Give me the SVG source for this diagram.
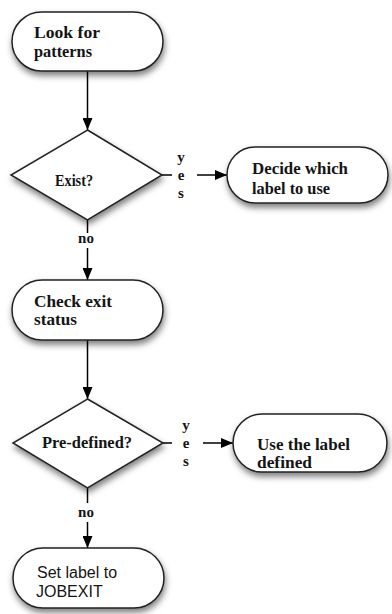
<svg xmlns="http://www.w3.org/2000/svg" width="392" height="614" viewBox="0 0 392 614">
  <defs>
    <filter id="shadow" x="-20%" y="-20%" width="140%" height="150%">
      <feDropShadow dx="1" dy="4" stdDeviation="3" flood-color="#000" flood-opacity="0.5"/>
    </filter>
    <marker id="arrow" viewBox="0 0 12 10" refX="12" refY="5" markerWidth="12" markerHeight="10" markerUnits="userSpaceOnUse" orient="auto">
      <path d="M0,0 L12,5 L0,10 z" fill="#000"/>
    </marker>
  </defs>
  <style>
    .shape { fill: #fff; stroke: #222; stroke-width: 1.5; filter: url(#shadow); }
    .lbl { font-family: "Liberation Serif", "DejaVu Serif", serif; font-weight: bold; font-size: 16px; fill: #141414; }
    .sans { font-family: "Liberation Sans", Arial, sans-serif; font-size: 16px; fill: #141414; }
    .edge { stroke: #000; stroke-width: 1.5; fill: none; }
    .elbl { font-family: "Liberation Serif", "DejaVu Serif", serif; font-weight: bold; font-size: 15px; fill: #141414; text-anchor: middle; }
  </style>
  <rect width="392" height="614" fill="#fff"/>

  <g id="connectors">
    <line class="edge" x1="87.5" y1="71" x2="87.5" y2="130" marker-end="url(#arrow)"/>
    <line class="edge" x1="87.5" y1="220" x2="87.5" y2="233"/>
    <line class="edge" x1="87.5" y1="248" x2="87.5" y2="280" marker-end="url(#arrow)"/>
    <line class="edge" x1="162" y1="175" x2="172" y2="175"/>
    <line class="edge" x1="197" y1="175" x2="227" y2="175" marker-end="url(#arrow)"/>
    <line class="edge" x1="87.5" y1="340" x2="87.5" y2="399" marker-end="url(#arrow)"/>
    <line class="edge" x1="163" y1="443" x2="172" y2="443"/>
    <line class="edge" x1="203" y1="443" x2="233" y2="443" marker-end="url(#arrow)"/>
    <line class="edge" x1="87.5" y1="488" x2="87.5" y2="503"/>
    <line class="edge" x1="87.5" y1="522" x2="87.5" y2="548" marker-end="url(#arrow)"/>
    <text class="elbl" x="181" y="162">y</text>
    <text class="elbl" x="181" y="180">e</text>
    <text class="elbl" x="181" y="198">s</text>
    <text class="elbl" x="86" y="243">no</text>
    <text class="elbl" x="186" y="430">y</text>
    <text class="elbl" x="186" y="448">e</text>
    <text class="elbl" x="186" y="466">s</text>
    <text class="elbl" x="86" y="517">no</text>
  </g>

  <g id="look-for-patterns">
    <rect class="shape" x="12" y="12" width="151" height="59" rx="29.5"/>
    <text class="lbl" x="34" y="38" textLength="66" lengthAdjust="spacingAndGlyphs">Look for</text>
    <text class="lbl" x="34" y="57" textLength="58" lengthAdjust="spacingAndGlyphs">patterns</text>
  </g>

  <g id="exist">
    <polygon class="shape" points="87.5,130 162,175 87.5,220 11,175"/>
    <text class="lbl" x="55" y="186" textLength="38" lengthAdjust="spacingAndGlyphs">Exist?</text>
  </g>

  <g id="decide-label">
    <rect class="shape" x="227" y="147" width="161" height="56" rx="28"/>
    <text class="lbl" x="252" y="174" textLength="96" lengthAdjust="spacingAndGlyphs">Decide which</text>
    <text class="lbl" x="252" y="194" textLength="78" lengthAdjust="spacingAndGlyphs">label to use</text>
  </g>

  <g id="check-exit">
    <rect class="shape" x="12" y="280" width="151" height="60" rx="30"/>
    <text class="lbl" x="34" y="307" textLength="78" lengthAdjust="spacingAndGlyphs">Check exit</text>
    <text class="lbl" x="34" y="325" textLength="43" lengthAdjust="spacingAndGlyphs">status</text>
  </g>

  <g id="pre-defined">
    <polygon class="shape" points="87.5,399 163,443 87.5,488 13,443"/>
    <text class="lbl" x="42" y="448" textLength="90" lengthAdjust="spacingAndGlyphs">Pre-defined?</text>
  </g>

  <g id="use-label">
    <rect class="shape" x="233" y="414" width="154" height="58" rx="29"/>
    <text class="lbl" x="257" y="450" textLength="93" lengthAdjust="spacingAndGlyphs">Use the label</text>
    <text class="lbl" x="257" y="468" textLength="55" lengthAdjust="spacingAndGlyphs">defined</text>
  </g>

  <g id="set-jobexit">
    <rect class="shape" x="13" y="548" width="151" height="60" rx="30"/>
    <text class="sans" x="37" y="578">Set label to</text>
    <text class="sans" x="36" y="597">JOBEXIT</text>
  </g>
</svg>
